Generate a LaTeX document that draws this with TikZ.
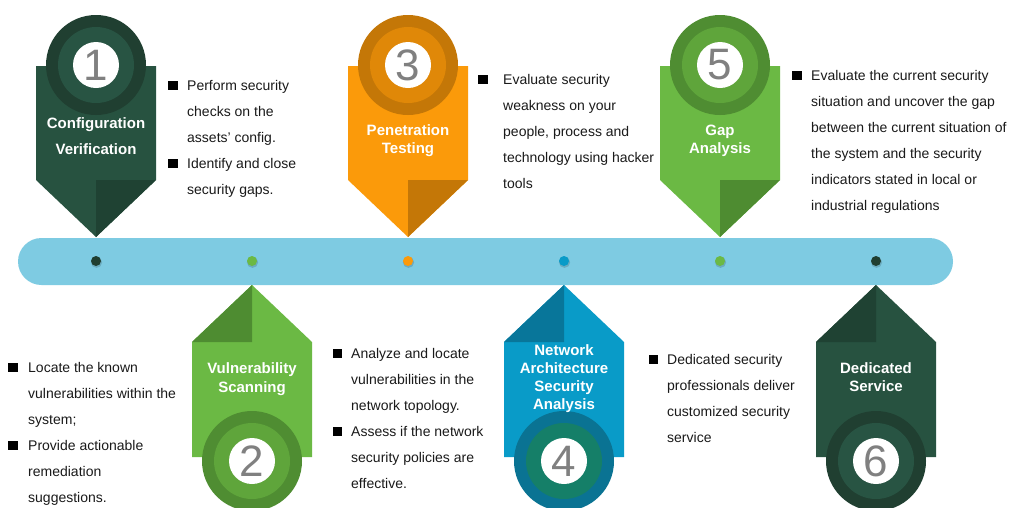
\documentclass[tikz,border=0pt]{standalone}
\usepackage{fontspec}
\setmainfont{Liberation Sans}
\definecolor{barblue}{HTML}{7ECBE2}
\definecolor{dgMain}{HTML}{275240}
\definecolor{dgDark}{HTML}{1F4233}
\definecolor{dgOuter}{HTML}{203F31}
\definecolor{dgMid}{HTML}{285443}
\definecolor{lgMain}{HTML}{6BB944}
\definecolor{lgDark}{HTML}{4E8C31}
\definecolor{lgOuter}{HTML}{4F8D32}
\definecolor{lgMid}{HTML}{5FA53B}
\definecolor{orMain}{HTML}{FB9A0A}
\definecolor{orDark}{HTML}{C47707}
\definecolor{orOuter}{HTML}{C47707}
\definecolor{orMid}{HTML}{E08808}
\definecolor{blMain}{HTML}{099BC8}
\definecolor{blDark}{HTML}{08769A}
\definecolor{blOuter}{HTML}{0A7393}
\definecolor{blMid}{HTML}{157F68}
\definecolor{numgrey}{HTML}{808080}
\definecolor{bodytext}{HTML}{1A1A1A}
\tikzset{
  body/.style={font=\fontsize{14}{16}\selectfont, text=bodytext, inner sep=0pt, anchor=base west},
  bul/.style={fill=black, inner sep=0pt, minimum size=9.5pt, draw=none},
  ttl/.style={font=\bfseries\fontsize{15}{18}\selectfont, text=white, inner sep=0pt, anchor=base},
  num/.style={font=\fontsize{44}{48}\selectfont, text=numgrey, inner sep=0pt},
  dot/.style={circle, inner sep=0pt, minimum size=10pt}
}
\newcommand\topmarker[6]{%
  \fill[#2] (#1-60,66) -- (#1+60,66) -- (#1+60,180) -- (#1,237) -- (#1-60,180) -- cycle;
  \fill[#3] (#1,180) -- (#1+60,180) -- (#1,237) -- cycle;
  \fill[#4] (#1,65) circle[radius=50pt];
  \fill[#5] (#1,65) circle[radius=38pt];
  \fill[white] (#1,65) circle[radius=23pt];
  \node[num] (n#6) at (#1,65) {#6};
}
\newcommand\botmarker[6]{%
  \fill[#2] (#1,285) -- (#1+60,342) -- (#1+60,457) -- (#1-60,457) -- (#1-60,342) -- cycle;
  \fill[#3] (#1-60,342) -- (#1,342) -- (#1,285) -- cycle;
  \fill[#4] (#1,461) circle[radius=50pt];
  \fill[#5] (#1,461) circle[radius=38pt];
  \fill[white] (#1,461) circle[radius=23pt];
  \node[num] (n#6) at (#1,461) {#6};
}
\newcommand\txtblock[4]{%
  \foreach \t [count=\i from 0] in {#4} {\node[body] (#1-\i) at (#2, #3+26*\i) {\t};}%
}
\begin{document}
\begin{tikzpicture}[x=1pt, y=-1pt]
\useasboundingbox (0,0) rectangle (1011,507);
\clip (0,0) rectangle (1011,507);
\fill[white] (0,0) rectangle (1011,507);
% timeline bar
\fill[barblue, rounded corners=23.5pt] (18,238) rectangle (953,285);
% dots
\foreach \x/\c [count=\k] in {96/dgOuter, 252/lgMain, 408/orMain, 564/blMain, 720/lgMain, 876/dgOuter} {
  \fill[black, opacity=0.15] (\x+0.5,261+1.3) circle[radius=5.6pt];
  \node[dot, fill=\c] (d\k) at (\x,261) {};
}
% markers
\topmarker{96}{dgMain}{dgDark}{dgOuter}{dgMid}{1}
\botmarker{252}{lgMain}{lgDark}{lgOuter}{lgMid}{2}
\topmarker{408}{orMain}{orDark}{orOuter}{orMid}{3}
\botmarker{564}{blMain}{blDark}{blOuter}{blMid}{4}
\topmarker{720}{lgMain}{lgDark}{lgOuter}{lgMid}{5}
\botmarker{876}{dgMain}{dgDark}{dgOuter}{dgMid}{6}
% titles
\node[ttl] (t1a) at (96,128.5) {Configuration};
\node[ttl] (t1b) at (96,154.5) {Verification};
\node[ttl] (t3a) at (408,135) {Penetration};
\node[ttl] (t3b) at (408,153) {Testing};
\node[ttl] (t5a) at (720,135) {Gap};
\node[ttl] (t5b) at (720,153) {Analysis};
\node[ttl] (t2a) at (252,373) {Vulnerability};
\node[ttl] (t2b) at (252,392) {Scanning};
\node[ttl] (t4a) at (564,355) {Network};
\node[ttl] (t4b) at (564,373) {Architecture};
\node[ttl] (t4c) at (564,391) {Security};
\node[ttl] (t4d) at (564,409) {Analysis};
\node[ttl] (t6a) at (876,373) {Dedicated};
\node[ttl] (t6b) at (876,391) {Service};
% body texts
\txtblock{b1}{187}{90}{Perform security, checks on the, assets' config., Identify and close, security gaps.}
\node[bul] (b1x) at (173,85.5) {};
\node[bul] (b1y) at (173,163.5) {};
\txtblock{b3}{503}{84}{Evaluate security, weakness on your, {people, process and}, technology using hacker, tools}
\node[bul] (b3x) at (483,79.5) {};
\txtblock{b5}{811}{80}{Evaluate the current security, situation and uncover the gap, between the current situation of, the system and the security, indicators stated in local or, industrial regulations}
\node[bul] (b5x) at (797,75.5) {};
\txtblock{b0}{28}{372}{Locate the known, vulnerabilities within the, system;, Provide actionable, remediation, suggestions.}
\node[bul] (b0x) at (13,367.5) {};
\node[bul] (b0y) at (13,445.5) {};
\txtblock{b2}{351}{358}{Analyze and locate, vulnerabilities in the, network topology., Assess if the network, security policies are, effective.}
\node[bul] (b2x) at (337.5,353.5) {};
\node[bul] (b2y) at (337.5,431.5) {};
\txtblock{b4}{667}{364}{Dedicated security, professionals deliver, customized security, service}
\node[bul] (b4x) at (653.5,359.5) {};
\end{tikzpicture}
\end{document}
